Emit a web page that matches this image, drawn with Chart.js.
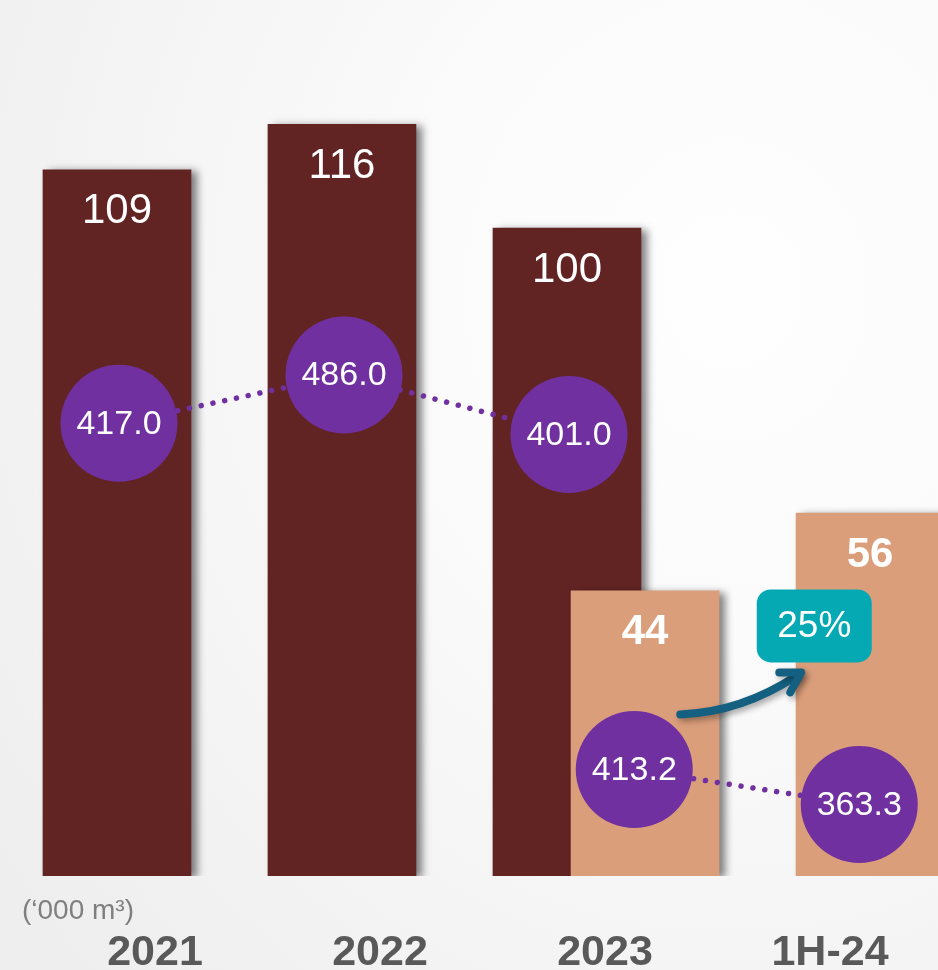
<!DOCTYPE html>
<html><head><meta charset="utf-8">
<script src="https://cdn.jsdelivr.net/npm/chart.js@4/dist/chart.umd.min.js"></script>
<style>
html,body{margin:0;padding:0;overflow:hidden;}
body{width:938px;height:970px;background:radial-gradient(ellipse 900px 1000px at 78% 30%, #fefefe 0%, #fbfbfb 35%, #f4f4f4 70%, #eeeeee 100%);}
#wrap{position:relative;width:938px;height:970px;}
canvas{display:block;}
</style></head>
<body><div id="wrap"><canvas id="c" width="938" height="970"></canvas></div>
<script>
// ---- data ----
const categories = ['2021', '2022', '2023', '1H-24'];
const volumeFY = [109, 116, 100, null];   // full-year volume ('000 m3)
const volumeH1 = [null, null, 44, 56];    // first-half volume ('000 m3)
const priceFY = [417.0, 486.0, 401.0, null];
const priceH1 = [null, null, 413.2, 363.3];
const unitLabel = '(\u2018000 m\u00B3)';
const growthLabel = '25%';

// ---- layout constants (positions relative to category ticks) ----
const FY_BAR_OFF = -0.169, H1_BAR_OFF = 0.178;
const FY_DOT_OFF = -0.16, H1_DOT_OFF = 0.13;

const toPts = (arr, off) => arr.map((v, i) => v == null ? null : {x: i + off, y: v}).filter(p => p);

const DARK = '#622323', TAN = '#db9e7b', PURPLE = '#7030a0';

const shadowPlugin = {
  id: 'barShadow',
  beforeDatasetDraw(chart, args) {
    if (args.meta.type === 'bar') {
      const c = chart.ctx; c.save();
      c.shadowColor = 'rgba(0,0,0,0.5)'; c.shadowBlur = 8; c.shadowOffsetX = 6; c.shadowOffsetY = 2;
    }
  },
  afterDatasetDraw(chart, args) { if (args.meta.type === 'bar') chart.ctx.restore(); }
};

const labelPlugin = {
  id: 'valueLabels',
  afterDatasetsDraw(chart) {
    const ctx = chart.ctx;
    ctx.save();
    ctx.textAlign = 'center'; ctx.textBaseline = 'middle'; ctx.fillStyle = '#ffffff';
    chart.data.datasets.forEach((ds, di) => {
      const meta = chart.getDatasetMeta(di);
      meta.data.forEach((el, i) => {
        const v = ds.data[i].y;
        if (meta.type === 'bar') {
          ctx.font = (ds.labelBold ? 'bold ' : '') + '42px "Liberation Sans", Arial, sans-serif';
          ctx.fillText(String(v), el.x, el.y + 42);
        } else {
          ctx.font = '34px "Liberation Sans", Arial, sans-serif';
          ctx.fillText(v.toFixed(1), el.x, el.y + 1);
        }
      });
    });
    ctx.restore();
  },
  afterDraw(chart) {
    const ctx = chart.ctx;
    const xs = chart.scales.x, ys = chart.scales.y;
    ctx.save();
    // unit label
    ctx.fillStyle = '#7f7f7f';
    ctx.font = '28px "Liberation Sans", Arial, sans-serif';
    ctx.textAlign = 'left'; ctx.textBaseline = 'alphabetic';
    ctx.fillText(unitLabel, 22, 919);
    // growth box
    const cx = xs.getPixelForValue(3 - 0.07);
    const cy = ys.getPixelForValue(38.6);
    const w = 115, h = 73, r = 14;
    const bx = cx - w / 2, by = cy - h / 2;
    ctx.fillStyle = '#05a9b3';
    ctx.beginPath();
    ctx.roundRect(bx, by, w, h, r);
    ctx.fill();
    ctx.fillStyle = '#ffffff';
    ctx.font = '37px "Liberation Sans", Arial, sans-serif';
    ctx.textAlign = 'center'; ctx.textBaseline = 'middle';
    ctx.fillText(growthLabel, cx, cy + 1);
    // arrow
    const tipX = cx - 13, tipY = by + h + 10;
    ctx.shadowColor = 'rgba(0,0,0,0.35)'; ctx.shadowBlur = 6; ctx.shadowOffsetX = 3; ctx.shadowOffsetY = 3;
    ctx.strokeStyle = '#155f81'; ctx.lineWidth = 8; ctx.lineCap = 'round'; ctx.lineJoin = 'round';
    ctx.beginPath();
    ctx.moveTo(tipX - 121, tipY + 42);
    ctx.quadraticCurveTo(tipX - 60, tipY + 40, tipX - 4, tipY + 3);
    ctx.stroke();
    ctx.beginPath();
    ctx.moveTo(tipX - 22, tipY + 0);
    ctx.lineTo(tipX, tipY);
    ctx.lineTo(tipX - 11, tipY + 20);
    ctx.stroke();
    ctx.restore();
  }
};

new Chart(document.getElementById('c'), {
  data: {
    datasets: [
      { type: 'line', data: toPts(priceFY, FY_DOT_OFF), yAxisID: 'yP', order: 0,
        borderColor: PURPLE, borderWidth: 5.5, borderDash: [0.01, 12], borderCapStyle: 'round',
        pointRadius: 58.5, pointBackgroundColor: PURPLE, pointBorderWidth: 0, clip: false },
      { type: 'line', data: toPts(priceH1, H1_DOT_OFF), yAxisID: 'yQ', order: 0,
        borderColor: PURPLE, borderWidth: 5.5, borderDash: [0.01, 12], borderCapStyle: 'round',
        pointRadius: 58.5, pointBackgroundColor: PURPLE, pointBorderWidth: 0, clip: false },
      { type: 'bar', data: toPts(volumeH1, H1_BAR_OFF), yAxisID: 'y', order: 1, labelBold: true,
        backgroundColor: TAN, barThickness: 148, grouped: false },
      { type: 'bar', data: toPts(volumeFY, FY_BAR_OFF), yAxisID: 'y', order: 2, labelBold: false,
        backgroundColor: DARK, barThickness: 148, grouped: false }
    ]
  },
  options: {
    responsive: false, animation: false, devicePixelRatio: 1, events: [],
    layout: { padding: 0, autoPadding: false },
    plugins: { legend: { display: false }, tooltip: { enabled: false }, title: { display: false } },
    scales: {
      x: {
        type: 'linear', min: -155 / 225, max: -155 / 225 + 938 / 225, offset: false,
        grid: { display: false, drawTicks: false }, border: { display: false },
        afterBuildTicks: (s) => { s.ticks = categories.map((_, i) => ({ value: i })); },
        afterFit: (s) => { s.height = 94; s.paddingLeft = 0; s.paddingRight = 0; },
        ticks: { autoSkip: false, maxRotation: 0, padding: 51, color: '#595959',
          font: { family: '"Liberation Sans", Arial, sans-serif', size: 43, weight: 'bold' },
          callback: (v) => categories[v] }
      },
      y: { display: false, min: 0, max: 135.2 },
      yP: { display: false, min: -229.7, max: 1021.7 },
      yQ: { display: false, min: 261.1, max: 1512.5 }
    }
  },
  plugins: [shadowPlugin, labelPlugin]
});
</script>
</body></html>
